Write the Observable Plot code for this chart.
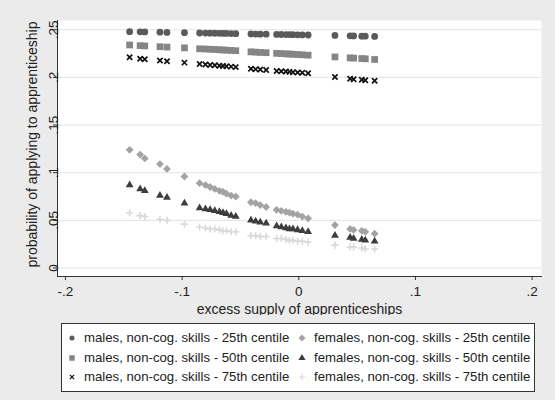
<!DOCTYPE html>
<html>
<head>
<meta charset="utf-8">
<script src="https://cdn.jsdelivr.net/npm/d3@7"></script>
<script src="https://cdn.jsdelivr.net/npm/@observablehq/plot@0.6"></script>
<style>
  html, body { margin: 0; padding: 0; background: #ebebeb; }
  body { width: 555px; height: 400px; position: relative; overflow: hidden; font-family: "Liberation Sans", Arial, sans-serif; }
  #chart { position: absolute; left: 0; top: 0; }
  #legend { position: absolute; left: 61px; top: 323px; width: 472px; height: 67px; background: #fff; border: 1px solid #333; overflow: hidden; font-size: 13.2px; color: #222; }
  .item { position: absolute; white-space: nowrap; height: 16px; line-height: 16px; }
  .item svg { position: absolute; left: 0; top: 2px; }
  .item span { position: absolute; left: 18px; top: 0; }
</style>
</head>
<body>
<div id="chart"></div>
<div id="legend"></div>
<script>
// ---- data ----
const xVals = [-0.145, -0.136, -0.132, -0.119, -0.113, -0.098,
  -0.085, -0.080, -0.076, -0.072, -0.068, -0.065, -0.062, -0.058, -0.054,
  -0.041, -0.037, -0.033, -0.028,
  -0.019, -0.015, -0.011, -0.008, -0.005, -0.001, 0.003, 0.008,
  0.031, 0.044, 0.047, 0.054, 0.057, 0.065];

const males25 = [0.2480, 0.2478, 0.2477, 0.2474, 0.2472, 0.2469,
  0.2466, 0.2465, 0.2464, 0.2463, 0.2462, 0.2462, 0.2461, 0.2460, 0.2459,
  0.2456, 0.2455, 0.2454, 0.2453,
  0.2451, 0.2450, 0.2449, 0.2449, 0.2448, 0.2447, 0.2446, 0.2445,
  0.2440, 0.2436, 0.2435, 0.2433, 0.2432, 0.2430];

const males50 = [0.2340, 0.2333, 0.2330, 0.2322, 0.2318, 0.2310,
  0.2300, 0.2298, 0.2295, 0.2293, 0.2290, 0.2288, 0.2286, 0.2283, 0.2280,
  0.2268, 0.2265, 0.2262, 0.2259,
  0.2252, 0.2250, 0.2247, 0.2245, 0.2243, 0.2240, 0.2237, 0.2233,
  0.2215, 0.2205, 0.2202, 0.2198, 0.2195, 0.2188];

const males75 = [0.2212, 0.2195, 0.2190, 0.2177, 0.2170, 0.2155,
  0.2140, 0.2135, 0.2130, 0.2127, 0.2123, 0.2120, 0.2117, 0.2113, 0.2108,
  0.2090, 0.2085, 0.2082, 0.2078,
  0.2068, 0.2065, 0.2062, 0.2058, 0.2055, 0.2052, 0.2048, 0.2043,
  0.2005, 0.1985, 0.1980, 0.1975, 0.1970, 0.1965];

const females25 = [0.124, 0.119, 0.115, 0.109, 0.104, 0.096,
  0.089, 0.087, 0.085, 0.083, 0.081, 0.080, 0.078, 0.076, 0.075,
  0.069, 0.068, 0.066, 0.064,
  0.061, 0.060, 0.059, 0.058, 0.057, 0.056, 0.054, 0.052,
  0.045, 0.041, 0.040, 0.039, 0.038, 0.036];

const females50 = [0.087, 0.083, 0.081, 0.076, 0.074, 0.068,
  0.063, 0.062, 0.061, 0.060, 0.059, 0.058, 0.057, 0.055, 0.054,
  0.050, 0.049, 0.048, 0.047,
  0.044, 0.043, 0.042, 0.041, 0.041, 0.040, 0.039, 0.038,
  0.034, 0.032, 0.031, 0.030, 0.029, 0.028];

const females75 = [0.058, 0.055, 0.054, 0.051, 0.050, 0.046,
  0.043, 0.042, 0.041, 0.041, 0.040, 0.039, 0.039, 0.038, 0.038,
  0.034, 0.034, 0.033, 0.033,
  0.031, 0.031, 0.030, 0.029, 0.029, 0.028, 0.028, 0.027,
  0.024, 0.022, 0.022, 0.021, 0.020, 0.020];

const seriesNames = [
  "males, non-cog. skills - 25th centile",
  "males, non-cog. skills - 50th centile",
  "males, non-cog. skills - 75th centile",
  "females, non-cog. skills - 25th centile",
  "females, non-cog. skills - 50th centile",
  "females, non-cog. skills - 75th centile"
];
const xTicks = [-0.2, -0.1, 0, 0.1, 0.2];
const yTicks = [0, 0.05, 0.1, 0.15, 0.2, 0.25];
const xTitle = "excess supply of apprenticeships";
const yTitle = "probability of applying to apprenticeship";

// ---- styles ----
const seriesValues = [males25, males50, males75, females25, females50, females75];
const styles = [
  {symbol: "circle",   fill: "#5a5a5a", r: 3.4},
  {symbol: "square",   fill: "#858585", r: 3.8},
  {symbol: "times",    stroke: "#111",  r: 2.5, strokeWidth: 1.7},
  {symbol: "diamond2", fill: "#a3a3a3", r: 3.5},
  {symbol: "triangle", fill: "#3d3d3d", r: 2.9},
  {symbol: "plus",     stroke: "#d9d9d9", r: 2.4, strokeWidth: 1.6}
];

const fmt = d => d === 0 ? "0" : String(+d.toFixed(3)).replace("0.", ".");

const dotMarks = seriesValues.map((vals, i) => {
  const data = xVals.map((x, j) => ({x, y: vals[j], series: seriesNames[i]}));
  const s = styles[i];
  const opts = {x: "x", y: "y", symbol: s.symbol, r: s.r};
  if (s.fill) { opts.fill = s.fill; opts.stroke = "none"; }
  else { opts.stroke = s.stroke; opts.fill = "none"; opts.strokeWidth = s.strokeWidth; }
  return Plot.dot(data, opts);
});

const chart = Plot.plot({
  width: 555, height: 315,
  marginLeft: 57, marginRight: 14, marginTop: 20, marginBottom: 39,
  style: {background: "#ebebeb", fontFamily: "'Liberation Sans', Arial, sans-serif", fontSize: "13.5px", color: "#222"},
  x: {domain: [-0.20682, 0.20804]},
  y: {domain: [-0.00892, 0.2597]},
  marks: [
    Plot.frame({fill: "#fff"}),
    Plot.gridY(yTicks, {stroke: "#e3e3e3", strokeOpacity: 1}),
    Plot.frame({anchor: "left", stroke: "#333"}),
    Plot.frame({anchor: "bottom", stroke: "#333"}),
    Plot.axisX({ticks: xTicks, tickFormat: fmt, tickSize: 4, tickPadding: 6, stroke: "#333", fontSize: 13.5,
      label: null}),
    Plot.axisX({ticks: [], label: xTitle, labelAnchor: "center", labelArrow: "none", labelOffset: 37, fontSize: 14}),
    Plot.axisY({ticks: yTicks, tickFormat: fmt, tickSize: 4, tickPadding: -4, tickRotate: -90, stroke: "#333", fontSize: 13.5,
      label: null}),
    Plot.text([yTitle], {frameAnchor: "left", textAnchor: "middle", rotate: -90, dx: -25, dy: -4, fontSize: 14, fill: "#222", text: d => d}),
    ...dotMarks
  ]
});
document.getElementById("chart").appendChild(chart);

// ---- legend (below the svg) ----
const legend = document.getElementById("legend");
const pos = [[4, 6], [4, 26], [4, 45], [234, 6], [234, 26], [234, 45]];
const legSizes = [20, 30, 14, 30, 22, 16];
seriesNames.forEach((name, i) => {
  const s = styles[i];
  const sym = {circle: d3.symbolCircle, square: d3.symbolSquare, times: d3.symbolTimes,
               diamond2: d3.symbolDiamond2, triangle: d3.symbolTriangle, plus: d3.symbolPlus}[s.symbol];
  const path = d3.symbol(sym, legSizes[i])();
  const paint = s.fill ? `fill="${s.fill}" stroke="none"` : `fill="none" stroke="${s.stroke}" stroke-width="1.2"`;
  const div = document.createElement("div");
  div.className = "item";
  div.style.left = pos[i][0] + "px";
  div.style.top = pos[i][1] + "px";
  div.innerHTML = `<svg width="12" height="12"><path transform="translate(6,6)" d="${path}" ${paint}/></svg><span>${name}</span>`;
  legend.appendChild(div);
});
</script>
</body>
</html>
